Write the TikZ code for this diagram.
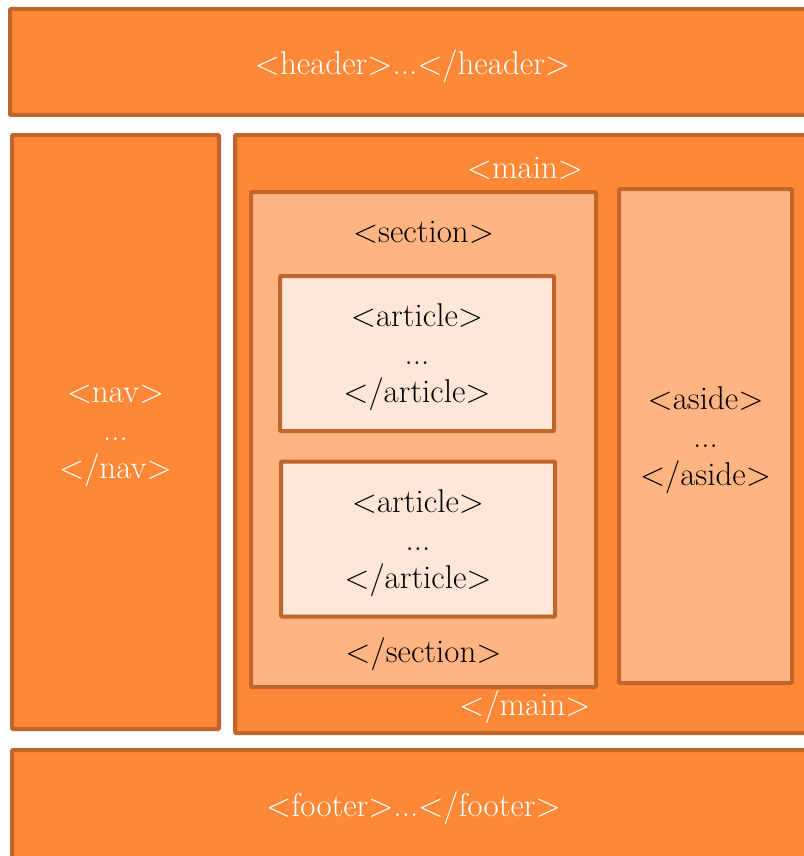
\documentclass[tikz,border=0pt]{standalone}
\usepackage{tikz}
\usetikzlibrary{positioning}
\definecolor{tagfill}{HTML}{FE8835}
\definecolor{tagedge}{HTML}{C0652B}
\definecolor{boxfill}{HTML}{FFB482}
\definecolor{leaffill}{HTML}{FFE6D6}
\tikzset{
block/.style={draw=tagedge, line width=4pt, fill=tagfill, rounded corners=1pt, outer sep=0, inner sep=0, text depth=0pt, text=white, align=center, font=\fontsize{33}{38}\selectfont}, inner/.style={block, fill=boxfill, text=black}, leaf/.style={block, fill=leaffill, text=black}, tag/.style={inner sep=2pt, font=\fontsize{33}{38}\selectfont}}

\begin{document}
\begin{tikzpicture}[x=1pt, y=-1pt]
\useasboundingbox (0,0) rectangle (803,856);
\node [block, minimum width=805, minimum height=106] at (412.5, 62) (header) {<header>...</header>};
\node [block, minimum width=207, minimum height=594] at (115.5, 432) (nav) {<nav>\\...\\</nav>};
\node [block, minimum width=580, minimum height=598] at (525, 434) (main) {};
\node [block, minimum width=803, minimum height=108] at (413.5, 804) (footer) {<footer>...</footer>};
\node [inner, minimum width=345, minimum height=495] at (423.5, 439.5) (section) {};
\node [inner, minimum width=173, minimum height=494] at (705.5, 436) (aside) {<aside>\\...\\</aside>};
\foreach \k/\xk/\yk in {1/417/353.5, 2/418/539}{
      \node [leaf, minimum width=274, minimum height=155] at (\xk, \yk) (article-\k) {<article>\\...\\</article>};
}
\node [tag, text=white, below=20pt of main.north] (main-open) {<main>};
\node [tag, text=white, above=7pt of main.south] (main-close) {</main>};
\node [tag, below=27pt of section.north] (section-open) {<section>};
\node [tag, above=14pt of section.south] (section-close) {</section>};
\end{tikzpicture}
\end{document}
